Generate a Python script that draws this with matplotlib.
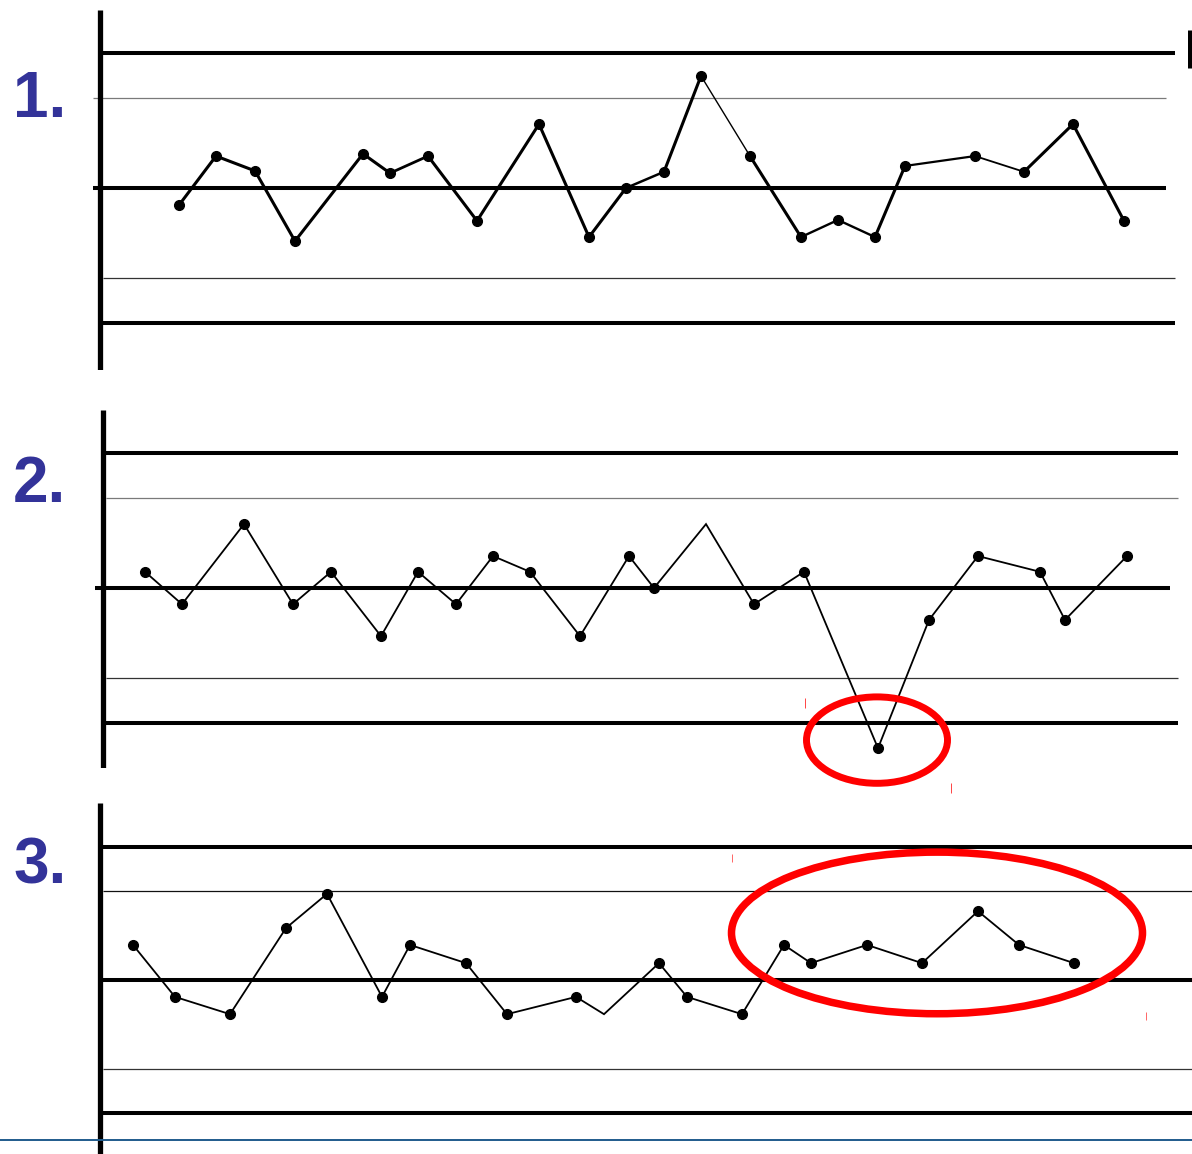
import matplotlib
matplotlib.use("Agg")
import matplotlib.pyplot as plt
from matplotlib.patches import Ellipse

# ---------------- data (time units, values in sigma units) ----------------
labels = ["1.", "2.", "3."]

p1_t = [7.9, 11.6, 15.5, 19.5, 26.3, 29.0, 32.8, 37.7, 43.9, 48.9, 52.6,
        56.4, 60.1, 65.0, 70.1, 73.8, 77.5, 80.5, 87.5, 92.4, 97.3, 102.4]
p1_v = [-0.38, 0.71, 0.38, -1.18, 0.76, 0.33, 0.71, -0.73, 1.42, -1.09, 0.0,
        0.36, 2.49, 0.71, -1.09, -0.71, -1.09, 0.49, 0.71, 0.36, 1.42, -0.73]
p1_seg_lw = [2.2, 2.2, 2.2, 2.2, 2.2, 2.0, 2.2, 2.2, 2.2, 2.2, 1.8,
             2.2, 1.0, 2.2, 1.7, 1.7, 2.2, 1.6, 1.3, 2.2, 2.2]

p2_t = [4.2, 7.9, 14.1, 19.0, 22.8, 27.8, 31.5, 35.3, 39.0, 42.7, 47.7,
        52.6, 55.1, 60.3, 65.1, 70.1, 77.5, 82.6, 87.5, 93.7, 96.2, 102.4]
p2_v = [0.36, -0.36, 1.42, -0.36, 0.36, -1.07, 0.36, -0.36, 0.71, 0.36, -1.07,
        0.71, 0.0, 1.42, -0.36, 0.36, -3.56, -0.71, 0.71, 0.36, -0.71, 0.71]
p2_nomarker = [13]

p3_t = [3.3, 7.5, 13.0, 18.6, 22.7, 28.2, 31.0, 36.6, 40.7, 47.6, 50.4,
        55.9, 58.7, 64.2, 68.4, 71.1, 76.7, 82.2, 87.8, 91.9, 97.4]
p3_v = [0.79, -0.38, -0.77, 1.17, 1.94, -0.38, 0.79, 0.38, -0.77, -0.38, -0.77,
        0.38, -0.38, -0.77, 0.79, 0.38, 0.79, 0.38, 1.55, 0.79, 0.38]
p3_nomarker = [10]

# ---------------- figure ----------------
W, H = 1192, 1154
fig = plt.figure(figsize=(W / 100, H / 100), dpi=100)

def make_ax(top_px, bot_px, axis_px, center_px, sigma_px):
    ax = fig.add_axes([0, 1 - bot_px / H, 1, (bot_px - top_px) / H])
    ax.set_xlim(-axis_px / 10, (W - axis_px) / 10)
    ax.set_ylim((center_px - bot_px) / sigma_px, (center_px - top_px) / sigma_px)
    ax.axis("off")
    return ax

def limits(ax, spans, thin_colors=("#7a7a7a", "#333333")):
    for lvl, (x0, x1) in spans.items():
        if abs(lvl) == 3 or lvl == 0:
            ax.hlines(lvl, x0, x1, colors="black", lw=2.9, clip_on=False,
                      capstyle="butt")
        else:
            c = thin_colors[0] if lvl > 0 else thin_colors[1]
            ax.hlines(lvl, x0, x1, colors=c, lw=0.9, clip_on=False,
                      capstyle="butt")

def points(ax, t, v, skip=(), lw=1.2, seg_lw=None):
    if seg_lw is None:
        ax.plot(t, v, color="black", lw=lw, solid_joinstyle="miter", zorder=3)
    else:
        for i in range(len(t) - 1):
            ax.plot(t[i:i + 2], v[i:i + 2], color="black", lw=seg_lw[i],
                    solid_capstyle="round", zorder=3)
    mt = [x for i, x in enumerate(t) if i not in skip]
    mv = [y for i, y in enumerate(v) if i not in skip]
    ax.plot(mt, mv, "o", color="black", ms=7, zorder=4)

# ---- panel 1 ----
ax1 = make_ax(10, 370, 100, 188, 45)
limits(ax1, {3: (0.3, 107.5), 2: (-0.7, 106.6), 0: (-0.7, 106.6),
             -2: (0.3, 107.5), -3: (0.3, 107.5)})
ax1.vlines(0, (188 - 370) / 45, (188 - 10) / 45, colors="black", lw=3.8)
ax1.vlines(109.0, 2.67, 3.51, colors="black", lw=3.6, clip_on=False,
           capstyle="butt")
points(ax1, p1_t, p1_v, seg_lw=p1_seg_lw)

# ---- panel 2 ----
ax2 = make_ax(410, 768, 103, 588, 45)
limits(ax2, {3: (0.3, 107.5), 2: (0.3, 107.5), 0: (-0.8, 106.7),
             -2: (0.3, 107.5), -3: (0.3, 107.5)})
ax2.vlines(0, (588 - 768) / 45, (588 - 410) / 45, colors="black", lw=3.8)
points(ax2, p2_t, p2_v, skip=p2_nomarker, lw=1.3)
ax2.add_patch(Ellipse((77.4, -3.38), 14.1, 1.92, fill=False,
                      edgecolor="#ff0000", lw=5.0, zorder=5, clip_on=False))
ax2.vlines(70.2, -2.45, -2.67, colors="#ff4444", lw=0.7, clip_on=False)
ax2.vlines(84.8, -4.33, -4.55, colors="#ff4444", lw=0.7, clip_on=False)

# ---- panel 3 ----
ax3 = make_ax(803, 1154, 100, 980, 44.4)
limits(ax3, {3: (0.3, 110), 2: (0.3, 110), 0: (0.3, 110),
             -2: (0.3, 110), -3: (0.3, 110)},
       thin_colors=("#111111", "#333333"))
ax3.vlines(0, (980 - 1154) / 44.4, (980 - 803) / 44.4, colors="black", lw=3.8)
ax3.hlines((980 - 1140) / 44.4, -10, 110, colors="#1f5b8c", lw=1.4, clip_on=False)
points(ax3, p3_t, p3_v, skip=p3_nomarker, lw=1.3)
ax3.add_patch(Ellipse((83.7, 1.06), 41.1, 3.64, fill=False,
                      edgecolor="#ff0000", lw=5.4, zorder=5, clip_on=False))
ax3.vlines(63.2, 2.83, 2.65, colors="#ff6666", lw=0.7)
ax3.vlines(104.6, -0.72, -0.9, colors="#ff6666", lw=0.7)

# ---- panel labels ----
for lab, ypx in zip(labels, [100, 485, 866]):
    fig.text(13 / W, 1 - ypx / H, lab, ha="left", va="center",
             fontsize=46, fontweight="bold", color="#333399",
             family=["Liberation Sans", "DejaVu Sans"])

fig.savefig("out.png", dpi=100, facecolor="white")
